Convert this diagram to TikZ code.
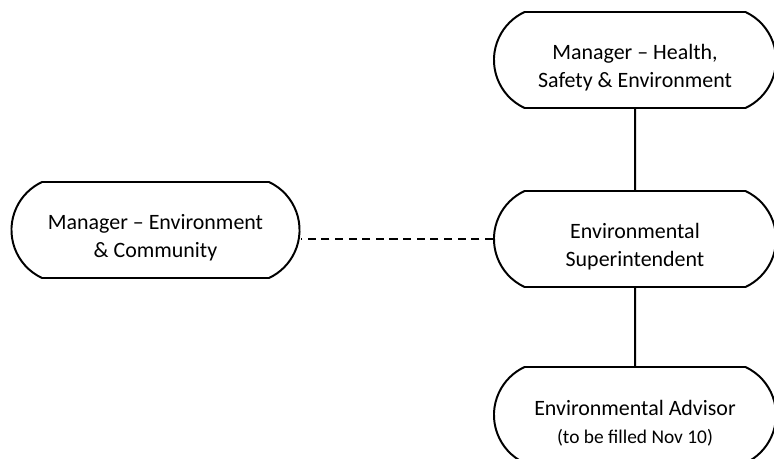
\documentclass[tikz,border=0pt]{standalone}
\usepackage{fontspec}
\setmainfont{Carlito}
\usepackage{tikz}
\usetikzlibrary{positioning, shapes.misc}
\tikzset{
  role/.style={rounded rectangle, rounded rectangle arc length=130, draw,
    line width=1.4pt, minimum width=7.05cm, minimum height=2.4cm, inner sep=0pt,
    align=center, font=\fontsize{15.6}{19.9}\selectfont},
  link/.style={line width=1.4pt}
}

\begin{document}
\begin{tikzpicture}[x=0.025cm, y=-0.025cm]
\useasboundingbox (0,0) rectangle (774,459);
% role boxes
\node[role] (hse) at (635,60) {\rule{0pt}{22pt}Manager -- Health,\\Safety \& Environment};
\node[role] (super) at (635,239) {\rule{0pt}{22pt}Environmental\\Superintendent};
\node[role] (advisor) at (635,415) {\rule{0pt}{22pt}Environmental Advisor\\{\fontsize{13.8}{17}\selectfont(to be filled Nov 10)}};
\node[role, minimum width=7.2cm] (envcom) at (155.5,230) {\rule{0pt}{22pt}Manager -- Environment\\\& Community};
% reporting lines
\draw[link] (hse) -- (super);
\draw[link] (super) -- (advisor);
\draw[link, dash pattern=on 5.7pt off 4pt] (super.west) -- (super.west -| envcom.east);
\end{tikzpicture}
\end{document}
